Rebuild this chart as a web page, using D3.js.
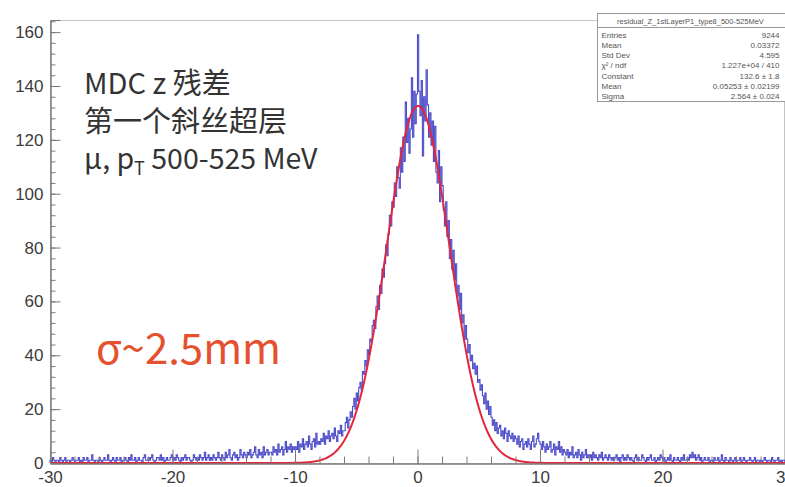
<!DOCTYPE html>
<html>
<head>
<meta charset="utf-8">
<script src="https://cdn.jsdelivr.net/npm/d3@7"></script>
<style>
  html, body { margin: 0; padding: 0; background: #fff; }
  svg { display: block; }
</style>
</head>
<body>
<svg id="chart" width="785" height="487"></svg>
<script>
// ---------------- DATA ----------------
const xMin = -30, xMax = 30, binWidth = 0.1;
// bin contents, 600 bins of width 0.1 from -30 to 30 (20 bins per row = 2 units)
const counts = [
  1,0,2,1,0,1,1,0,2,1,0,1,2,0,1,1,0,1,2,1,          // -30..-28
  0,1,1,2,0,1,0,2,1,1,2,0,1,1,3,1,0,1,1,0,          // -28..-26
  2,1,0,1,2,1,1,3,1,0,1,2,1,0,2,1,1,2,0,1,          // -26..-24
  1,2,1,0,2,1,3,1,1,2,0,1,2,1,1,0,2,3,1,1,          // -24..-22
  2,1,2,3,1,0,1,2,2,1,3,1,2,0,1,2,1,1,2,3,          // -22..-20
  1,2,1,3,2,1,0,2,1,2,3,1,2,2,1,0,1,3,2,1,          // -20..-18
  2,1,3,2,1,2,4,1,2,3,1,2,1,3,2,1,2,4,2,1,          // -18..-16
  3,2,1,4,2,3,5,2,1,3,4,2,3,1,2,5,3,2,4,3,          // -16..-14
  2,4,3,5,2,3,4,6,3,2,5,3,4,2,6,3,4,5,3,4,          // -14..-12
  4,3,6,4,5,3,7,4,5,6,3,5,8,4,6,5,7,4,6,5,          // -12..-10
  6,5,8,4,7,6,9,5,7,8,6,10,7,5,8,9,6,11,7,8,        // -10..-8
  7,9,8,11,7,10,9,12,8,10,11,9,13,10,8,12,11,14,10,12, // -8..-6
  12,15,17,13,16,19,17,21,24,20,26,23,28,30,27,34,33,38,36,42, // -6..-4
  40,46,45,51,53,50,58,62,57,66,63,72,69,74,81,77,85,92,88,97, // -4..-2
  95,104,99,110,106,102,117,108,121,112,134,119,128,115,124,143,121,138,126,137, // -2..0
  159,138,129,142,114,136,127,146,133,121,130,118,127,112,125,108,104,116,97,110, // 0..2
  103,94,88,97,84,90,76,83,72,79,68,74,62,66,57,63,52,55,46,51, // 2..4
  46,41,44,38,40,35,37,33,36,30,31,27,29,25,22,26,20,23,18,21, // 4..6
  17,14,16,12,15,11,13,14,10,12,9,13,11,8,12,10,9,11,8,10,     // 6..8
  9,7,10,6,8,9,5,7,8,6,9,7,5,8,10,6,7,9,11,8,       // 8..10
  7,5,8,6,4,7,5,6,8,4,5,7,3,6,5,8,4,6,3,5,          // 10..12
  4,3,5,2,4,3,6,2,3,4,2,5,3,1,4,2,3,5,2,3,          // 12..14
  2,3,1,4,2,3,2,1,3,2,4,1,2,3,2,1,3,2,1,2,          // 14..16
  1,2,3,1,2,0,2,3,1,2,1,3,2,1,2,1,0,2,3,1,          // 16..18
  2,1,1,3,2,1,0,2,1,2,3,1,1,2,0,1,2,1,3,2,          // 18..20
  1,2,0,1,2,1,3,1,0,2,1,1,2,1,0,2,1,3,1,1,          // 20..22
  2,1,3,2,4,2,3,1,2,3,1,2,0,1,2,1,1,2,0,1,          // 22..24
  1,0,2,1,1,2,0,1,3,1,0,2,1,1,0,2,1,0,1,2,          // 24..26
  0,1,1,2,0,1,2,1,0,1,1,2,1,0,1,2,0,1,1,0,          // 26..28
  1,0,1,2,1,0,1,1,0,2,1,0,1,1,2,0,1,0,1,1           // 28..30
];
// Gaussian fit parameters
const fitConstant = 132.6, fitMean = 0.05253, fitSigma = 2.564;

const xTicks = [-30, -20, -10, 0, 10, 20, 30];
const yTicks = [0, 20, 40, 60, 80, 100, 120, 140, 160];

const statsTitle = "residual_Z_1stLayerP1_type8_500-525MeV";
const statsNames = ["Entries", "Mean", "Std Dev", "\u03C7\u00B2 / ndf", "Constant", "Mean", "Sigma"];
const statsValues = ["9244", "0.03372", "4.595", "1.227e+04 / 410", "132.6 \u00B1 1.8", "0.05253 \u00B1 0.02199", "2.564 \u00B1 0.024"];

const noteLines = ["MDC z 残差", "第一个斜丝超层"];
const noteLine3 = { a: "\u03BC, p", sub: "T", b: " 500-525 MeV" };
const sigmaNote = "\u03C3~2.5mm";

// ---------------- CHART ----------------
const svg = d3.select("#chart");
const L = 50, R = 784, T = 20, B = 463;

const x = d3.scaleLinear().domain([xMin, xMax]).range([L, R + 1]);
const y = d3.scaleLinear().domain([0, 164.5]).range([B, T]);

const axisColor = "#7a7a7a";
const labelColor = "#3c3c3c";

// frame
svg.append("rect").attr("x", L + 0.5).attr("y", T + 0.5)
  .attr("width", R - L).attr("height", B - T)
  .attr("fill", "none").attr("stroke", "#c4c4c4").attr("stroke-width", 1);

// histogram step outline
const pts = [[x(xMin), y(0)]];
counts.forEach((c, i) => {
  const lo = xMin + i * binWidth, hi = lo + binWidth;
  pts.push([x(lo), y(c)], [x(hi), y(c)]);
});
pts.push([x(xMax), y(0)]);
svg.append("path").attr("d", d3.line()(pts))
  .attr("fill", "none").attr("stroke", "#3838c4").attr("stroke-width", 1.1)
  .attr("stroke-opacity", 0.9);

// gaussian fit curve
const fitPts = d3.range(xMin, xMax + 0.001, 0.05).map(v =>
  [x(v), y(fitConstant * Math.exp(-0.5 * Math.pow((v - fitMean) / fitSigma, 2)))]);
svg.append("path").attr("d", d3.line()(fitPts))
  .attr("fill", "none").attr("stroke", "#e3263c").attr("stroke-width", 2);

// y axis
const gy = svg.append("g").attr("transform", `translate(${L + 0.5},0)`);
gy.call(d3.axisLeft(y).tickValues(yTicks).tickSize(-10).tickPadding(7).tickFormat(d => String(d)));
const gyMinor = svg.append("g").attr("transform", `translate(${L + 0.5},0)`);
gyMinor.call(d3.axisLeft(y).tickValues(d3.range(0, 165, 4)).tickSize(-5).tickFormat(""));
// x axis
const gx = svg.append("g").attr("transform", `translate(0,${B + 0.5})`);
gx.call(d3.axisBottom(x).tickValues(xTicks).tickSize(-14).tickPadding(4).tickFormat(d => String(d)));
const gxMinor = svg.append("g").attr("transform", `translate(0,${B + 0.5})`);
gxMinor.call(d3.axisBottom(x).tickValues(d3.range(-30, 31, 2)).tickSize(-7).tickFormat(""));

[gy, gyMinor, gx, gxMinor].forEach(g => {
  g.selectAll(".domain").attr("stroke", axisColor);
  g.selectAll(".tick line").attr("stroke", axisColor);
  g.selectAll("text").attr("fill", labelColor)
    .style("font-family", "'Liberation Sans', Arial, sans-serif").style("font-size", "17px");
});
gx.selectAll("text").attr("dy", "0.9em");

// stats box
const sb = { x: 597.5, y: 13.5, w: 190, h: 88 };
svg.append("rect").attr("x", sb.x).attr("y", sb.y).attr("width", sb.w).attr("height", sb.h)
  .attr("fill", "#fff").attr("stroke", "#9a9a9a").attr("stroke-width", 1);
svg.append("line").attr("x1", sb.x).attr("x2", sb.x + sb.w).attr("y1", sb.y + 14).attr("y2", sb.y + 14)
  .attr("stroke", "#9a9a9a");
const statFont = "'Liberation Sans', Arial, sans-serif";
svg.append("text").attr("x", sb.x + 93).attr("y", sb.y + 10).attr("text-anchor", "middle")
  .attr("fill", "#555").style("font-family", statFont).style("font-size", "7.5px").text(statsTitle);
statsNames.forEach((n, i) => {
  const yy = sb.y + 24 + i * 10.3;
  svg.append("text").attr("x", sb.x + 4).attr("y", yy).attr("fill", "#555")
    .style("font-family", statFont).style("font-size", "8px").text(n);
  svg.append("text").attr("x", sb.x + 182).attr("y", yy).attr("text-anchor", "end").attr("fill", "#555")
    .style("font-family", statFont).style("font-size", "8px").text(statsValues[i]);
});

// annotations
const noteFont = "'Noto Sans CJK SC', 'Noto Sans', sans-serif";
noteLines.forEach((t, i) => {
  svg.append("text").attr("x", 84).attr("y", 94 + i * 38).attr("fill", "#333")
    .style("font-family", noteFont).style("font-size", "29px").text(t);
});
const l3 = svg.append("text").attr("x", 84).attr("y", 169).attr("fill", "#333")
  .style("font-family", noteFont).style("font-size", "28.5px");
l3.append("tspan").text(noteLine3.a);
l3.append("tspan").attr("dy", 6).style("font-size", "18px").text(noteLine3.sub);
l3.append("tspan").attr("dy", -6).text(noteLine3.b);

svg.append("text").attr("x", 96).attr("y", 364).attr("fill", "#e5502f")
  .style("font-family", noteFont).style("font-size", "42px").text(sigmaNote);
</script>
</body>
</html>
